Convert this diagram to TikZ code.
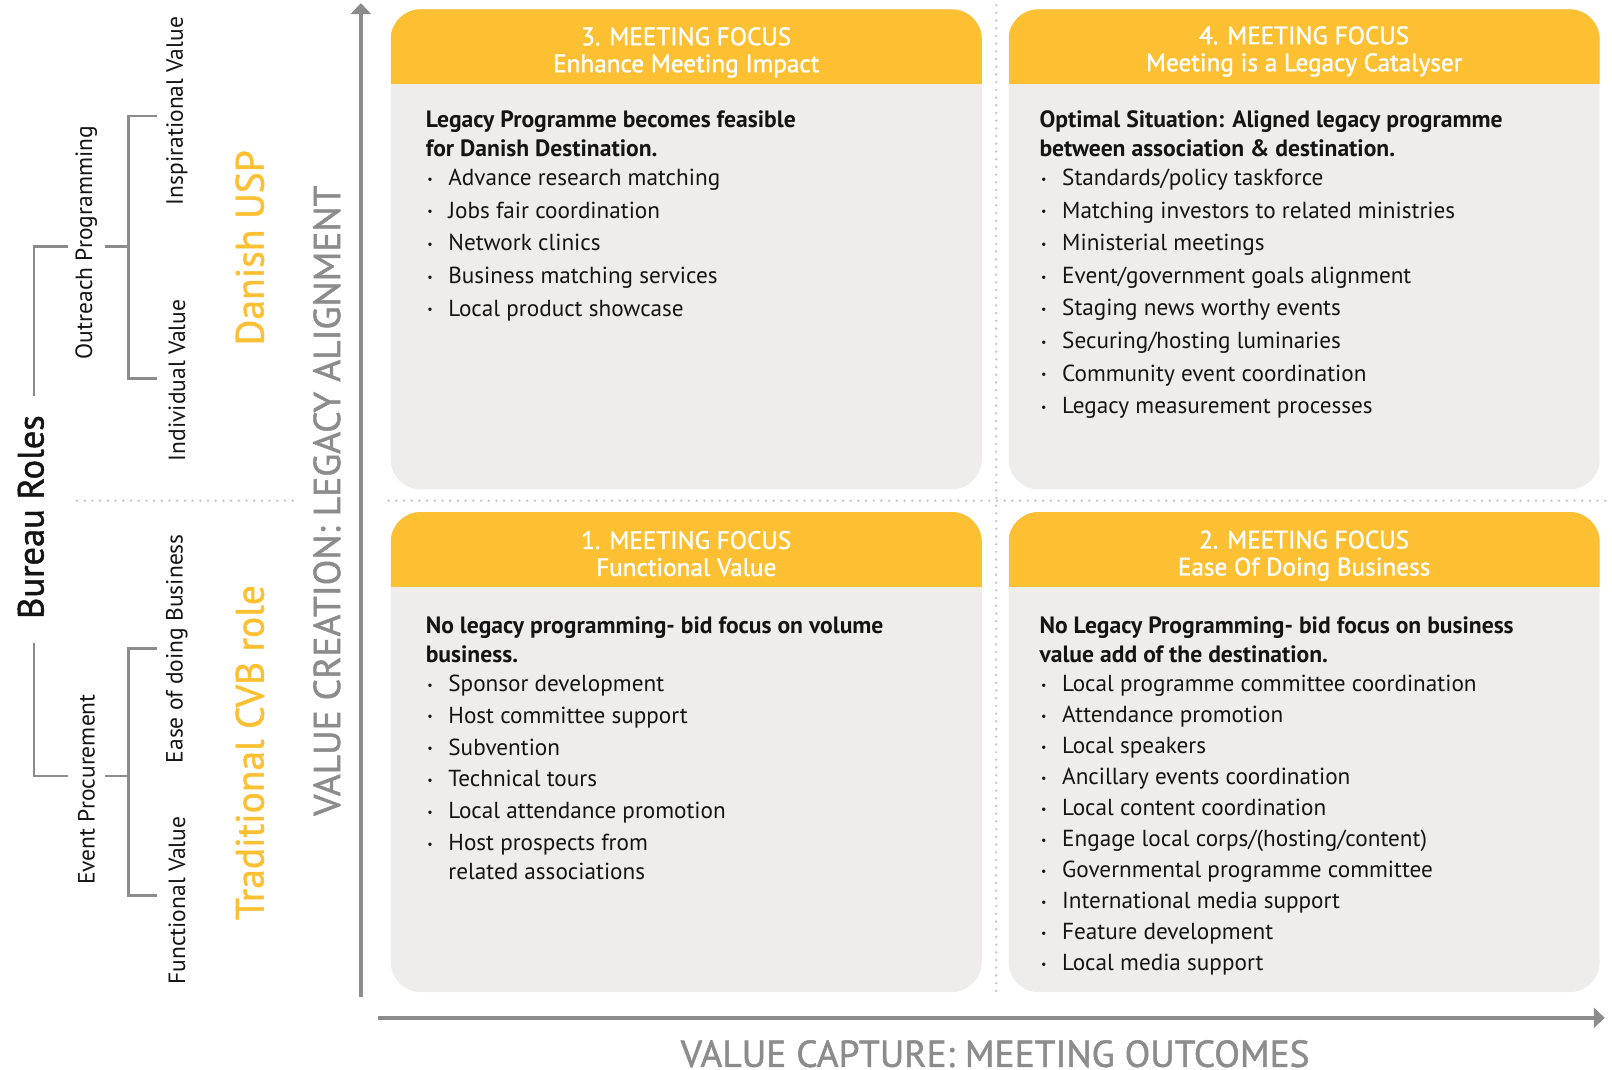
\documentclass[tikz,border=0pt]{standalone}
\usepackage{fontspec}
\setmainfont{PT Sans}
\newfontfamily\medfont{PT Sans}[FakeBold=1.3]
\usetikzlibrary{arrows.meta}
\definecolor{myyellow}{RGB}{253,192,50}
\definecolor{cardgray}{RGB}{238,237,236}
\definecolor{axisgray}{RGB}{140,140,140}
\definecolor{dotgray}{RGB}{196,196,196}
\definecolor{textdark}{RGB}{20,20,20}
\newcommand{\itembullet}{\makebox[22.6pt][l]{\hspace{1.5pt}\raisebox{0.2ex}{\fontsize{12}{12}\selectfont\textbullet}}}
\tikzset{
  cardbg/.style={rectangle, rounded corners=30pt, fill=cardgray, draw=none, inner sep=0pt,
    minimum width=591.1pt, minimum height=480.1pt},
  headtxt/.style={text=white, align=center, inner sep=0pt, font=\medfont\fontsize{25.2}{27}\selectfont},
  bodyhead/.style={anchor=base west, inner sep=0pt, text=textdark, font=\fontsize{23.6}{28}\selectfont\bfseries},
  bodyitem/.style={anchor=base west, inner sep=0pt, text=textdark, font=\fontsize{23.2}{28}\selectfont},
  axisline/.style={draw=axisgray, line width=3.5pt, -{Triangle[length=11pt,width=20pt]}},
  axislabel/.style={text=axisgray, inner sep=0pt, font=\medfont\fontsize{37.5}{40}\selectfont},
  bracket/.style={draw=axisgray, line width=2.5pt},
  roletxt/.style={rotate=90, inner sep=0pt, text=textdark, font=\fontsize{23.5}{26}\selectfont},
  uspstyle/.style={rotate=90, inner sep=0pt, text=myyellow, font=\medfont\fontsize{39.5}{42}\selectfont},
  dotline/.style={draw=dotgray, line width=2.6pt, line cap=round, dash pattern=on 0pt off 7.7pt},
}
\begin{document}
\begin{tikzpicture}[x=1.028pt, y=-1.028pt]
\useasboundingbox (0,0) rectangle (1568,1040);

% dotted separators
\coordinate (dv1) at (969,5);
\coordinate (dv2) at (969,965);
\coordinate (dh1) at (75,487);
\coordinate (dh2) at (290,487);
\coordinate (dh3) at (378,487);
\coordinate (dh4) at (1562,487);
\draw[dotline] (dv1) -- (dv2);
\draw[dotline] (dh1) -- (dh2);
\draw[dotline] (dh3) -- (dh4);

% cards
\foreach \n/\xa/\ya in {c3/380/9, c4/981/9, c1/380/498, c2/981/498}{
  \node[cardbg] (\n) at (\xa+287.5,\ya+233.5) {};
  \begin{scope}
    \clip[rounded corners=30pt] (\xa,\ya) rectangle ++(575,467);
    \fill[myyellow] (\xa,\ya) rectangle ++(575,73);
  \end{scope}
}

% card headers
\node[headtxt] (h3) at (667.5,51) {3. MEETING FOCUS\\Enhance Meeting Impact};
\node[headtxt] (h4) at (1268.5,50) {4. MEETING FOCUS\\Meeting is a Legacy Catalyser};
\node[headtxt] (h1) at (667.5,538.5) {1. MEETING FOCUS\\Functional Value};
\node[headtxt] (h2) at (1268.5,540.5) {2. MEETING FOCUS\\Ease Of Doing Business};

% card 3 body
\node[bodyhead] (t3a) at (414,124.5) {Legacy Programme becomes feasible};
\node[bodyhead] (t3b) at (414,152.5) {for Danish Destination.};
\foreach \t [count=\i from 0] in {Advance research matching, Jobs fair coordination, Network clinics, Business matching services, Local product showcase}
  \node[bodyitem] (b3-\i) at (414,180.5+31.75*\i) {\itembullet\t};

% card 4 body
\node[bodyhead] (t4a) at (1011,124.5) {Optimal Situation: Aligned legacy programme};
\node[bodyhead] (t4b) at (1011,152.5) {between association \& destination.};
\foreach \t [count=\i from 0] in {Standards/policy taskforce, Matching investors to related ministries, Ministerial meetings, Event/government goals alignment, Staging news worthy events, Securing/hosting luminaries, Community event coordination, Legacy measurement processes}
  \node[bodyitem] (b4-\i) at (1011,180.5+31.7*\i) {\itembullet\t};

% card 1 body
\node[bodyhead] (t1a) at (414,616.5) {No legacy programming- bid focus on volume};
\node[bodyhead] (t1b) at (414,644.5) {business.};
\foreach \t [count=\i from 0] in {Sponsor development, Host committee support, Subvention, Technical tours, Local attendance promotion, Host prospects from}
  \node[bodyitem] (b1-\i) at (414,672.5+31*\i) {\itembullet\t};
\node[bodyitem] (b1-w) at (436,855.5) {related associations};

% card 2 body
\node[bodyhead] (t2a) at (1011,616.5) {No Legacy Programming- bid focus on business};
\node[bodyhead] (t2b) at (1011,644.5) {value add of the destination.};
\foreach \t [count=\i from 0] in {Local programme committee coordination, Attendance promotion, Local speakers, Ancillary events coordination, Local content coordination, Engage local corps/(hosting/content), Governmental programme committee, International media support, Feature development, Local media support}
  \node[bodyitem] (b2-\i) at (1011,672.5+30.2*\i) {\itembullet\t};

% axes
\coordinate (yb) at (351,970);
\coordinate (yt) at (351,3);
\coordinate (xb) at (368,990);
\coordinate (xt) at (1561,990);
\draw[axisline] (yb) -- (yt);
\draw[axisline] (xb) -- (xt);
\node[axislabel] (xl) at (968,1025) {VALUE CAPTURE: MEETING OUTCOMES};
\node[axislabel, rotate=90] (yl) at (318,487) {VALUE CREATION: LEGACY ALIGNMENT};

% left labels
\node[roletxt, font=\medfont\fontsize{36.5}{40}\selectfont] (br) at (30,503) {Bureau Roles};
\node[roletxt] (op) at (84,236) {Outreach Programming};
\node[roletxt] (iv1) at (172,108) {Inspirational Value};
\node[roletxt] (iv2) at (172,370) {Individual Value};
\node[roletxt] (ep) at (84,768) {Event Procurement};
\node[roletxt] (eb) at (172,631) {Ease of doing Business};
\node[roletxt] (fv) at (172,876) {Functional Value};
\node[uspstyle] (usp) at (243,241) {Danish USP};
\node[uspstyle] (cvb) at (243,732) {Traditional CVB role};

% brackets
\coordinate (k1) at (33,385);
\coordinate (k2) at (66,240);
\coordinate (k3) at (102,240);
\coordinate (k4) at (125,240);
\coordinate (k5) at (153,113);
\coordinate (k6) at (153,368);
\draw[bracket] (k1) |- (k2);
\draw[bracket] (k3) -- (k4);
\draw[bracket] (k5) -| (125,240) |- (k6);
\coordinate (m1) at (33,625);
\coordinate (m2) at (66,755);
\coordinate (m3) at (102,755);
\coordinate (m4) at (125,755);
\coordinate (m5) at (153,631);
\coordinate (m6) at (153,871);
\draw[bracket] (m1) |- (m2);
\draw[bracket] (m3) -- (m4);
\draw[bracket] (m5) -| (125,755) |- (m6);
\end{tikzpicture}
\end{document}
